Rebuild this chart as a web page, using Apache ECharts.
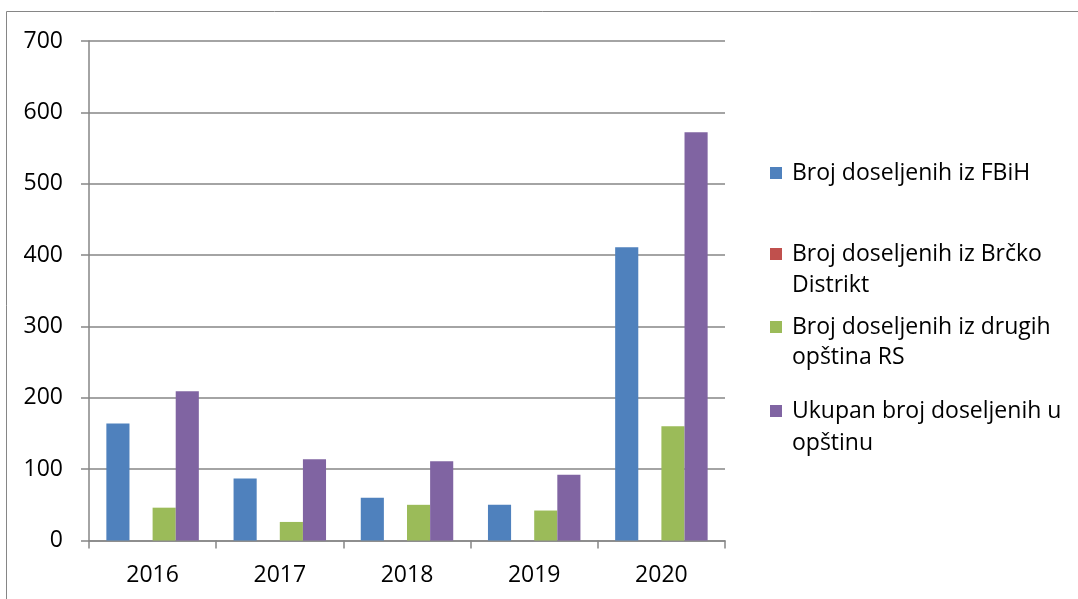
<!DOCTYPE html>
<html>
<head>
<meta charset="utf-8">
<script src="https://cdn.jsdelivr.net/npm/echarts@6/dist/echarts.min.js"></script>
<style>
html,body{margin:0;padding:0;background:#fff;}
#chart{width:1078px;height:599px;}
</style>
</head>
<body>
<div id="chart"></div>
<script>
const categories = ['2016', '2017', '2018', '2019', '2020'];
const fbih = [164, 87, 60, 50, 411];
const brcko = [0, 0, 0, 0, 0];
const drugih = [46, 26, 50, 42, 160];
const ukupno = [209, 114, 111, 92, 572];
const seriesNames = [
  'Broj doseljenih iz FBiH',
  'Broj doseljenih iz Brčko Distrikt',
  'Broj doseljenih iz drugih opština RS',
  'Ukupan broj doseljenih u opštinu'
];
const legendFirst = ['Broj doseljenih iz FBiH', 'Broj doseljenih iz Brčko', 'Broj doseljenih iz drugih', 'Ukupan broj doseljenih u'];
const legendSecond = ['', 'Distrikt', 'opština RS', 'opštinu'];
const yTicks = [0, 100, 200, 300, 400, 500, 600, 700];
const colors = ['#4F81BD', '#C0504D', '#9BBB59', '#8064A2'];

const FONT = 'Open Sans';
const FS = 23;
const legendTops = [173, 254, 327, 411];
const secondTops = [0, 285, 357, 443];

const chart = echarts.init(document.getElementById('chart'));
const values = [fbih, brcko, drugih, ukupno];

const legends = seriesNames.map((n, i) => ({
  show: true,
  orient: 'vertical',
  left: 770,
  top: legendTops[i] - 15,
  padding: 0,
  icon: 'rect',
  itemWidth: 12,
  itemHeight: 12,
  itemGap: 0,
  selectedMode: false,
  data: [n],
  formatter: () => legendFirst[i],
  textStyle: { fontFamily: FONT, fontSize: FS, color: '#000', lineHeight: 30, padding: [0, 0, 0, 5] }
}));

const graphics = [
  { type: 'rect', shape: { x: 6.5, y: 11.5, width: 1200, height: 800 }, style: { fill: 'none', stroke: '#868686', lineWidth: 1 }, silent: true }
];
legendSecond.forEach((t, i) => {
  if (!t) return;
  graphics.push({
    type: 'text', x: 792, y: secondTops[i],
    style: { text: t, fontFamily: FONT, fontSize: FS, fill: '#000', align: 'left', verticalAlign: 'middle' }
  });
});

chart.setOption({
  animation: false,
  backgroundColor: '#fff',
  color: colors,
  grid: { left: 89, right: 353, top: 41, bottom: 58.5, containLabel: false },
  legend: legends,
  graphic: graphics,
  xAxis: {
    type: 'category',
    data: categories,
    axisLine: { lineStyle: { color: '#868686', width: 1.5 } },
    axisTick: { show: true, alignWithLabel: false, length: 8, lineStyle: { color: '#868686', width: 1.5 } },
    axisLabel: { fontFamily: FONT, fontSize: FS, color: '#000', margin: 23 },
    splitLine: { show: false }
  },
  yAxis: {
    type: 'value',
    min: 0, max: 700, interval: 100,
    axisLine: { show: true, lineStyle: { color: '#868686', width: 1.5 } },
    axisTick: { show: true, length: 8, lineStyle: { color: '#868686', width: 1.5 } },
    axisLabel: { fontFamily: FONT, fontSize: FS, color: '#000', margin: 26,
      formatter: v => yTicks.includes(v) ? String(v) : '' },
    splitLine: { show: true, lineStyle: { color: '#868686', width: 1.5 } }
  },
  series: seriesNames.map((n, i) => ({
    name: n,
    type: 'bar',
    data: values[i],
    barGap: '0%',
    barCategoryGap: '27.3%',
    itemStyle: { color: colors[i] }
  }))
});
</script>
</body>
</html>
